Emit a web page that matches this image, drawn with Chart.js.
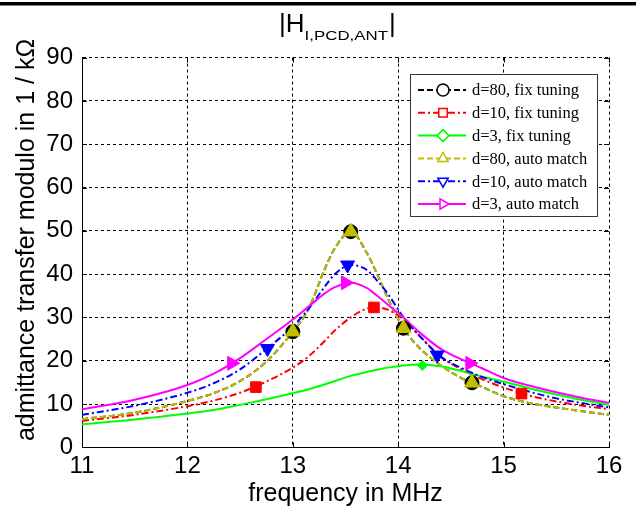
<!DOCTYPE html>
<html>
<head>
<meta charset="utf-8">
<script src="https://cdn.jsdelivr.net/npm/chart.js"></script>
<style>
  html, body { margin: 0; padding: 0; background: #fff; }
  #wrap { width: 636px; height: 511px; }
</style>
</head>
<body>
<div id="wrap"><canvas id="chart" width="636" height="511"></canvas></div>
<script>
// Frequency grid (MHz) the curves were read on
const freq = [11, 11.5, 12, 12.25, 12.5, 12.75, 13, 13.15, 13.3, 13.4, 13.55, 13.7, 13.8, 13.9, 14.05, 14.2, 14.4, 14.6, 14.8, 15, 15.25, 15.5, 15.75, 16];

// |H| in 1/kOhm, one value per freq entry
const d80Fix  = [6.5, 8.0, 10.7, 12.5, 15.3, 19.8, 26.7, 32.0, 41.0, 46.0, 49.8, 45.0, 40.0, 34.5, 27.5, 23.0, 19.0, 16.0, 13.9, 11.8, 10.2, 9.2, 8.3, 7.5];
const d10Fix  = [6.1, 7.5, 9.5, 10.8, 12.6, 15.2, 18.4, 21.0, 24.5, 27.0, 30.0, 32.0, 32.3, 31.8, 29.5, 25.8, 21.0, 18.0, 15.7, 13.8, 11.9, 10.6, 9.6, 8.8];
const d3Fix   = [5.3, 6.4, 7.8, 8.6, 9.8, 11.1, 12.5, 13.4, 14.5, 15.3, 16.5, 17.4, 17.9, 18.4, 18.9, 19.1, 18.7, 17.6, 16.3, 15.2, 13.6, 12.2, 10.9, 9.8];
const d80Auto = [6.5, 8.0, 10.7, 12.5, 15.3, 19.8, 26.7, 32.0, 41.0, 46.0, 49.8, 45.0, 40.0, 34.5, 27.5, 23.0, 19.0, 16.0, 13.9, 11.8, 10.2, 9.2, 8.3, 7.5];
const d10Auto = [7.5, 9.6, 12.6, 14.8, 18.0, 22.7, 27.9, 32.0, 37.0, 40.0, 42.1, 41.0, 38.5, 35.5, 30.0, 25.8, 21.0, 18.3, 16.2, 14.6, 12.8, 11.3, 10.2, 9.2];
const d3Auto  = [8.8, 11.0, 14.4, 17.0, 20.6, 25.0, 29.5, 32.5, 35.5, 37.0, 38.0, 36.8, 35.0, 33.0, 30.0, 26.6, 22.8, 20.3, 18.2, 16.0, 14.2, 12.7, 11.4, 10.3];

// marker positions (MHz) and values
const d80FixMarkF  = [13.0, 13.55, 14.05, 14.7];
const d80FixMarkV  = [26.7, 49.8, 27.5, 14.9];
const d10FixMarkF  = [12.65, 13.77, 15.17];
const d10FixMarkV  = [13.9, 32.3, 12.4];
const d3FixMarkF   = [14.23];
const d3FixMarkV   = [18.9];
const d80AutoMarkF = [13.0, 13.55, 14.05, 14.7];
const d80AutoMarkV = [26.7, 49.8, 27.5, 14.9];
const d10AutoMarkF = [12.76, 13.52, 14.37];
const d10AutoMarkV = [22.8, 42.1, 21.3];
const d3AutoMarkF  = [12.42, 13.5, 14.68];
const d3AutoMarkV  = [19.4, 38.0, 19.4];

const xTicks = [11, 12, 13, 14, 15, 16];
const yTicks = [0, 10, 20, 30, 40, 50, 60, 70, 80, 90];

const labels = ['d=80, fix tuning', 'd=10, fix tuning', 'd=3, fix tuning', 'd=80, auto match', 'd=10, auto match', 'd=3, auto match'];

const FONT = '"Liberation Sans", Arial, sans-serif';
Chart.defaults.font.family = FONT;

// styles per series (MATLAB-ish)
const styles = [
    { color: '#000000', dash: [6, 3],       marker: 'circle',   rot: 0,   r: 7,   z: 6 },
    { color: '#ff0000', dash: [7, 3, 2, 3], marker: 'rect',     rot: 0,   r: 7.5, z: 5 },
    { color: '#00ff00', dash: [],           marker: 'rectRot',  rot: 0,   r: 5,   z: 4 },
    { color: '#bfbf00', dash: [6, 3],       marker: 'triangle', rot: 0,   r: 8.5, z: 3 },
    { color: '#0000ff', dash: [7, 3, 2, 3], marker: 'triangle', rot: 180, r: 8,   z: 2 },
    { color: '#ff00ff', dash: [],           marker: 'triangle', rot: 90,  r: 8,   z: 1 }
];

const lineValues = [d80Fix, d10Fix, d3Fix, d80Auto, d10Auto, d3Auto];
const markF = [d80FixMarkF, d10FixMarkF, d3FixMarkF, d80AutoMarkF, d10AutoMarkF, d3AutoMarkF];
const markV = [d80FixMarkV, d10FixMarkV, d3FixMarkV, d80AutoMarkV, d10AutoMarkV, d3AutoMarkV];

function toPoints(xs, ys) {
    return xs.map((x, i) => ({ x: x, y: ys[i] }));
}

const datasets = [];
styles.forEach((s, i) => {
    datasets.push({
        label: labels[i],
        data: toPoints(freq, lineValues[i]),
        showLine: true,
        borderColor: s.color,
        borderWidth: 2,
        borderDash: s.dash,
        pointRadius: 0,
        cubicInterpolationMode: 'monotone',
        order: 10 + s.z
    });
    datasets.push({
        label: labels[i] + ' markers',
        data: toPoints(markF[i], markV[i]),
        showLine: false,
        pointStyle: s.marker,
        pointRotation: s.rot,
        pointRadius: s.r,
        backgroundColor: s.color,
        borderColor: s.color,
        borderWidth: 1,
        order: s.z
    });
});

// small marker drawer for the legend (hollow markers)
function drawMarker(ctx, style, x, y, r, rot) {
    const rad = rot * Math.PI / 180;
    ctx.beginPath();
    if (style === 'circle') {
        ctx.arc(x, y, r, 0, Math.PI * 2);
    } else if (style === 'rect') {
        const h = r * Math.SQRT1_2;
        ctx.rect(x - h, y - h, 2 * h, 2 * h);
    } else if (style === 'rectRot') {
        ctx.moveTo(x - r, y); ctx.lineTo(x, y - r); ctx.lineTo(x + r, y); ctx.lineTo(x, y + r);
        ctx.closePath();
    } else {
        let a = rad;
        ctx.moveTo(x + Math.sin(a) * r, y - Math.cos(a) * r);
        a += 2 * Math.PI / 3;
        ctx.lineTo(x + Math.sin(a) * r, y - Math.cos(a) * r);
        a += 2 * Math.PI / 3;
        ctx.lineTo(x + Math.sin(a) * r, y - Math.cos(a) * r);
        ctx.closePath();
    }
    ctx.fill();
    ctx.stroke();
}

const decorations = {
    id: 'decorations',
    beforeDraw(chart) {
        const ctx = chart.ctx;
        ctx.save();
        ctx.fillStyle = '#fff';
        ctx.fillRect(0, 0, chart.width, chart.height);
        // rule from the page the figure was cut from
        ctx.fillStyle = '#000';
        ctx.fillRect(0, 2, chart.width, 3.5);
        ctx.restore();
    },
    beforeDatasetsDraw(chart) {
        // inward tick marks on all four sides
        const ctx = chart.ctx, a = chart.chartArea;
        const xs = chart.scales.x, ys = chart.scales.y;
        ctx.save();
        ctx.strokeStyle = '#000';
        ctx.lineWidth = 1;
        ctx.beginPath();
        xTicks.forEach(v => {
            const px = Math.round(xs.getPixelForValue(v)) + 0.5;
            ctx.moveTo(px, a.bottom); ctx.lineTo(px, a.bottom - 5);
            ctx.moveTo(px, a.top); ctx.lineTo(px, a.top + 5);
        });
        yTicks.forEach(v => {
            const py = Math.round(ys.getPixelForValue(v)) + 0.5;
            ctx.moveTo(a.left, py); ctx.lineTo(a.left + 5, py);
            ctx.moveTo(a.right, py); ctx.lineTo(a.right - 5, py);
        });
        ctx.stroke();
        ctx.restore();
    },
    afterDraw(chart) {
        const ctx = chart.ctx, a = chart.chartArea;
        ctx.save();
        ctx.fillStyle = '#000';

        // title |H_{I,PCD,ANT}|
        ctx.font = '26px ' + FONT;
        ctx.textAlign = 'left';
        ctx.textBaseline = 'alphabetic';
        let tx = 279;
        ctx.fillText('|H', tx, 32);
        tx += ctx.measureText('|H').width;
        ctx.save();
        ctx.translate(tx, 40);
        ctx.scale(1.3, 1);
        ctx.font = '13px ' + FONT;
        ctx.fillText('I,PCD,ANT', 0, 0);
        const subW = ctx.measureText('I,PCD,ANT').width * 1.3;
        ctx.restore();
        ctx.font = '26px ' + FONT;
        ctx.fillText('|', tx + subW + 1, 32);

        // axis titles
        ctx.textAlign = 'center';
        ctx.textBaseline = 'middle';
        ctx.font = '25px ' + FONT;
        ctx.fillText('frequency in MHz', (a.left + a.right) / 2, 494);
        ctx.save();
        ctx.translate(27, 240);
        ctx.rotate(-Math.PI / 2);
        ctx.fillText('admittance transfer modulo in 1 / k\u03A9', 0, 0);
        ctx.restore();

        // legend box
        const bx = 410.5, by = 74.5, bw = 187, bh = 142;
        ctx.fillStyle = '#fff';
        ctx.fillRect(bx, by, bw, bh);
        ctx.strokeStyle = '#333';
        ctx.lineWidth = 1;
        ctx.setLineDash([]);
        ctx.strokeRect(bx, by, bw, bh);

        ctx.font = '16.5px "Liberation Serif", "Times New Roman", serif';
        ctx.textAlign = 'left';
        ctx.textBaseline = 'middle';
        labels.forEach((lab, i) => {
            const s = styles[i];
            const y = 90 + i * 22.8;
            ctx.strokeStyle = s.color;
            ctx.lineWidth = 2;
            ctx.setLineDash(s.dash);
            ctx.beginPath();
            ctx.moveTo(418, y); ctx.lineTo(466, y);
            ctx.stroke();
            ctx.setLineDash([]);
            ctx.fillStyle = '#fff';
            ctx.lineWidth = 1.5;
            drawMarker(ctx, s.marker, 443, y, 6, s.rot);
            ctx.fillStyle = '#000';
            ctx.fillText(lab, 472, y + 1);
        });
        ctx.restore();
    }
};

const ctx = document.getElementById('chart').getContext('2d');
window.admittanceChart = new Chart(ctx, {
    type: 'scatter',
    data: { datasets: datasets },
    options: {
        responsive: false,
        animation: false,
        devicePixelRatio: 1,
        layout: { padding: { top: 57.6, right: 27, left: 0, bottom: 0 } },
        plugins: {
            legend: { display: false },
            tooltip: { enabled: false },
            title: { display: false }
        },
        scales: {
            x: {
                type: 'linear',
                min: 11,
                max: 16,
                afterBuildTicks: s => { s.ticks = xTicks.map(v => ({ value: v })); },
                afterFit: s => { s.height = 63.7; },
                ticks: { color: '#000', font: { size: 24 }, padding: 5, maxRotation: 0 },
                grid: { color: '#000', lineWidth: 1, drawTicks: false, borderDash: [3, 3] },
                border: { display: true, color: '#000', width: 1, dash: [3, 3] }
            },
            y: {
                type: 'linear',
                min: 0,
                max: 90,
                afterBuildTicks: s => { s.ticks = yTicks.map(v => ({ value: v })); },
                afterFit: s => { s.width = 82; },
                ticks: { color: '#000', font: { size: 24 }, padding: 9 },
                grid: { color: '#000', lineWidth: 1, drawTicks: false, borderDash: [3, 3] },
                border: { display: true, color: '#000', width: 1, dash: [3, 3] }
            }
        }
    },
    plugins: [decorations]
});
</script>
</body>
</html>
